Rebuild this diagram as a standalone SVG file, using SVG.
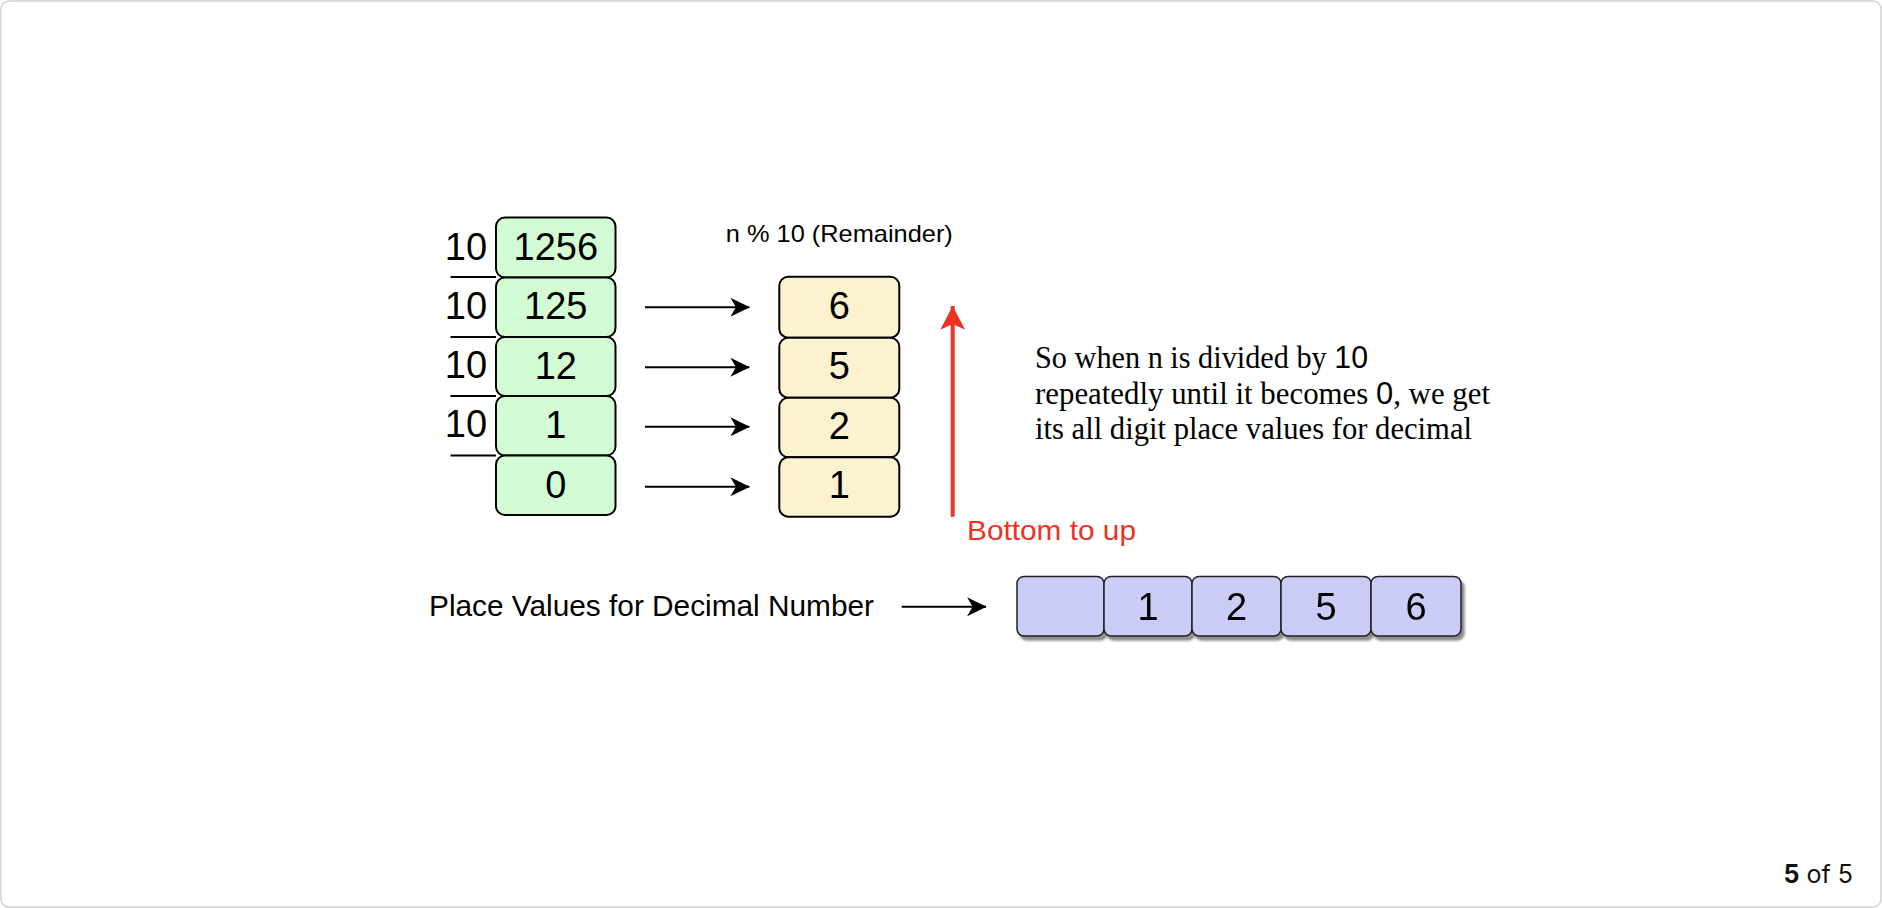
<svg xmlns="http://www.w3.org/2000/svg" width="1882" height="908" viewBox="0 0 1882 908">
<style>
.sans{font-family:"Liberation Sans",Arial,Helvetica,sans-serif;fill:#000}
.serif{font-family:"Liberation Serif","Times New Roman",serif;fill:#000;font-size:30.5px}
.dsans{font-family:"Liberation Sans",Arial,sans-serif}
.dig{font-size:38px;text-anchor:middle}
.green{fill:#D4FCD4;stroke:#000;stroke-width:2}
.yellow{fill:#FDF2D0;stroke:#000;stroke-width:2}
.lav{fill:#CCCCF8;stroke:#222;stroke-width:1.5}
.conn{stroke:#000;stroke-width:2;fill:none}
.div{stroke:#000;stroke-width:2}
</style>
<defs>
<marker id="ah" markerUnits="userSpaceOnUse" markerWidth="20" markerHeight="20" viewBox="0 0 18 18" refX="17" refY="9" orient="auto">
<path d="M0,0.5 L17.5,9 L0,17.5 L5,9 Z" fill="#000"/>
</marker>
<marker id="ahr" markerUnits="userSpaceOnUse" markerWidth="26" markerHeight="26" viewBox="0 0 24 24" refX="22" refY="12" orient="auto">
<path d="M0,0.5 L22,12 L0,23.5 L5.5,12 Z" fill="#EA3323"/>
</marker>
<filter id="sh" x="-10%" y="-10%" width="130%" height="140%">
<feGaussianBlur in="SourceAlpha" stdDeviation="1.2"/>
<feOffset dx="3" dy="4" result="b"/>
<feComponentTransfer><feFuncA type="linear" slope="0.45"/></feComponentTransfer>
<feMerge><feMergeNode/><feMergeNode in="SourceGraphic"/></feMerge>
</filter>
</defs>
<rect x="1" y="1" width="1880" height="906" rx="8" ry="8" fill="#fff" stroke="#D2D2D2" stroke-width="1.5"/>

<g id="divisors">
<line class="div" x1="450.5" y1="277" x2="496" y2="277"/>
<line class="div" x1="450.5" y1="337" x2="496" y2="337"/>
<line class="div" x1="450.5" y1="396" x2="496" y2="396"/>
<line class="div" x1="450.5" y1="455.5" x2="496" y2="455.5"/>
<text class="sans dig" x="466" y="259.5">10</text>
<text class="sans dig" x="466" y="318.5">10</text>
<text class="sans dig" x="466" y="378">10</text>
<text class="sans dig" x="466" y="437">10</text>
</g>

<g id="g1256"><rect class="green" x="496" y="217.5" width="119.5" height="60" rx="9"/><text class="sans dig" x="555.8" y="259.5">1256</text></g>
<g id="g125"><rect class="green" x="496" y="277.5" width="119.5" height="59.5" rx="9"/><text class="sans dig" x="555.8" y="319">125</text></g>
<g id="g12"><rect class="green" x="496" y="337" width="119.5" height="59" rx="9"/><text class="sans dig" x="555.8" y="378.5">12</text></g>
<g id="g1"><rect class="green" x="496" y="396" width="119.5" height="59.5" rx="9"/><text class="sans dig" x="555.8" y="438">1</text></g>
<g id="g0"><rect class="green" x="496" y="455.5" width="119.5" height="59.5" rx="9"/><text class="sans dig" x="555.8" y="497.5">0</text></g>

<g id="remainderLabel"><text class="sans" x="839.3" y="241.7" font-size="24" text-anchor="middle" textLength="227" lengthAdjust="spacingAndGlyphs">n % 10 (Remainder)</text></g>

<g id="r6"><rect class="yellow" x="779.3" y="276.7" width="120" height="61" rx="9"/><text class="sans dig" x="839.3" y="319">6</text></g>
<g id="r5"><rect class="yellow" x="779.3" y="337.7" width="120" height="60" rx="9"/><text class="sans dig" x="839.3" y="378.5">5</text></g>
<g id="r2"><rect class="yellow" x="779.3" y="397.7" width="120" height="59.6" rx="9"/><text class="sans dig" x="839.3" y="438.5">2</text></g>
<g id="r1"><rect class="yellow" x="779.3" y="457.3" width="120" height="59.4" rx="9"/><text class="sans dig" x="839.3" y="498">1</text></g>

<g id="connectors">
<line class="conn" x1="645" y1="307.3" x2="749.3" y2="307.3" marker-end="url(#ah)"/>
<line class="conn" x1="645" y1="367.3" x2="749.3" y2="367.3" marker-end="url(#ah)"/>
<line class="conn" x1="645" y1="426.7" x2="749.3" y2="426.7" marker-end="url(#ah)"/>
<line class="conn" x1="645" y1="486.7" x2="749.3" y2="486.7" marker-end="url(#ah)"/>
<line x1="952.7" y1="516.7" x2="952.7" y2="306" stroke="#EA3323" stroke-width="4" fill="none" marker-end="url(#ahr)"/>
<line class="conn" x1="901.7" y1="606.7" x2="986" y2="606.7" marker-end="url(#ah)"/>
</g>

<g id="bottomLabel"><text x="967" y="540" font-family="Liberation Sans,Arial,sans-serif" font-size="28" fill="#EA3323" textLength="169" lengthAdjust="spacingAndGlyphs">Bottom to up</text></g>

<g id="explanation">
<text class="serif" x="1035" y="367.5" textLength="333" lengthAdjust="spacingAndGlyphs">So when n is divided by <tspan class="dsans">10</tspan></text>
<text class="serif" x="1035" y="403.5" textLength="455" lengthAdjust="spacingAndGlyphs">repeatedly until it becomes <tspan class="dsans">0</tspan>, we get</text>
<text class="serif" x="1035" y="439" textLength="437" lengthAdjust="spacingAndGlyphs">its all digit place values for decimal</text>
</g>

<g id="placeLabel"><text class="sans" x="429" y="616" font-size="30" textLength="445" lengthAdjust="spacingAndGlyphs">Place Values for Decimal Number</text></g>

<g id="placeValues" filter="url(#sh)">
<g id="p0"><rect class="lav" x="1017" y="576.5" width="87" height="59.5" rx="7"/></g>
<g id="p1"><rect class="lav" x="1104" y="576.5" width="88" height="59.5" rx="7"/><text class="sans dig" x="1148" y="620">1</text></g>
<g id="p2"><rect class="lav" x="1192" y="576.5" width="89" height="59.5" rx="7"/><text class="sans dig" x="1236.5" y="620">2</text></g>
<g id="p5"><rect class="lav" x="1281" y="576.5" width="90" height="59.5" rx="7"/><text class="sans dig" x="1326" y="620">5</text></g>
<g id="p6"><rect class="lav" x="1371" y="576.5" width="90" height="59.5" rx="7"/><text class="sans dig" x="1416" y="620">6</text></g>
</g>

<g id="pager"><text x="1853" y="883" font-family="Inter,'Liberation Sans',sans-serif" font-size="25" text-anchor="end" fill="#111"><tspan font-weight="bold">5</tspan> of 5</text></g>
</svg>
